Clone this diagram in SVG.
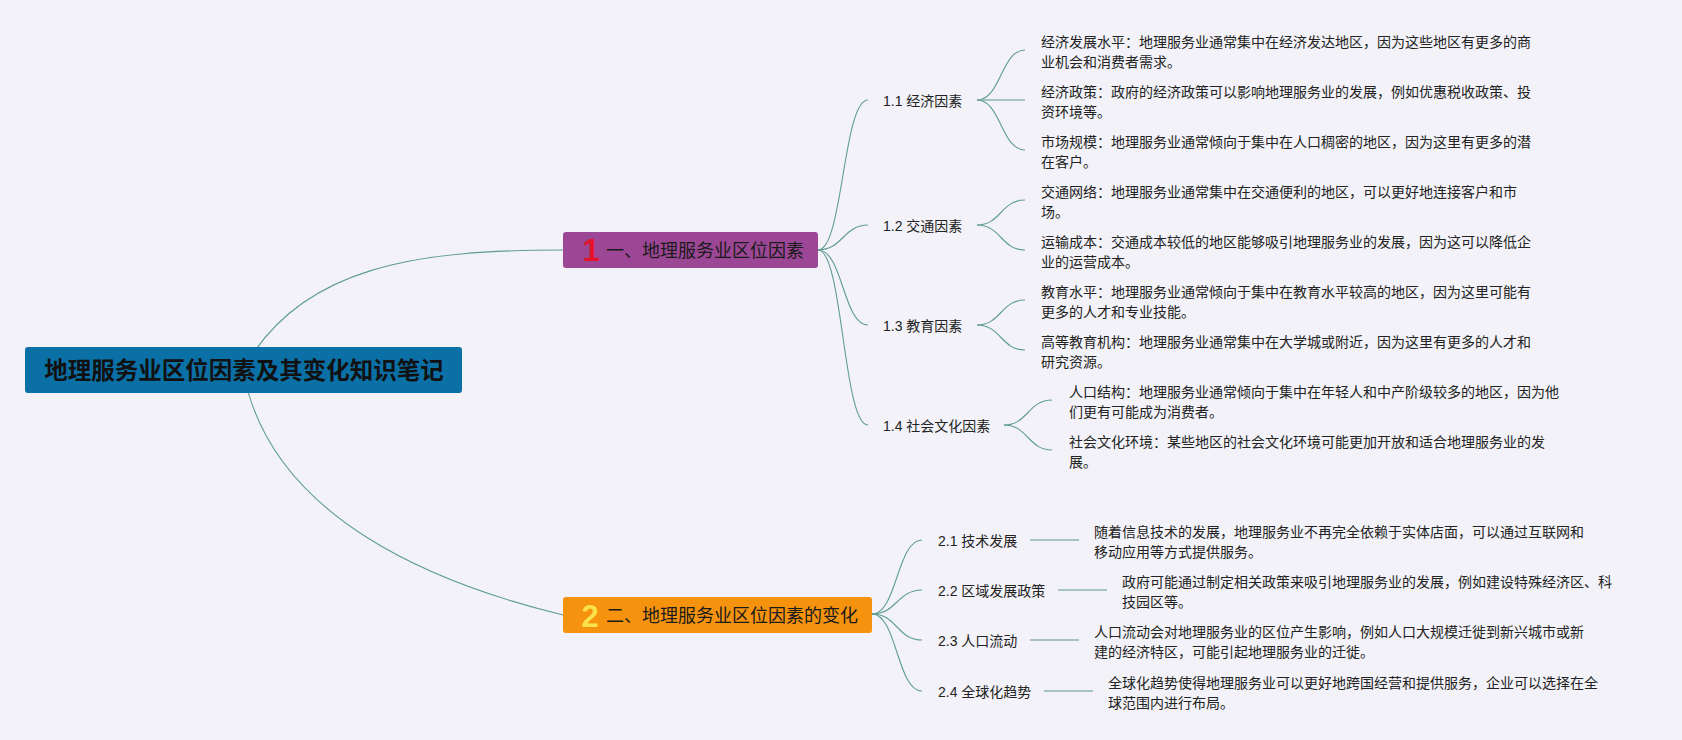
<svg xmlns="http://www.w3.org/2000/svg" width="1682" height="740" viewBox="0 0 1682 740">
<style>
.t{font-family:"Liberation Sans","Noto Sans CJK SC",sans-serif;font-size:14px;fill:#222}
.lb{font-family:"Liberation Sans","Noto Sans CJK SC",sans-serif;font-size:14px;fill:#222}
.br{font-family:"Noto Sans CJK SC",sans-serif;font-size:18px;fill:#1a1a1a}
.badge{font-family:"Liberation Sans",sans-serif;font-size:31px;font-weight:bold;text-anchor:middle}
.c{fill:none;stroke:#5f9d94;stroke-width:1.1}
.h{fill:none;stroke:#8db5ae;stroke-width:1.6}
</style>
<rect width="1682" height="740" fill="#f2f2f8"/>
<g id="connectors">
<path class="c" d="M243,370 C300,265 420,250 563,250"/>
<path class="c" d="M243,370 C270,520 440,585 563,615"/>
<path class="c" d="M818,250 C843,250 843,100 868,100"/>
<path class="c" d="M818,250 C843,250 843,225 868,225"/>
<path class="c" d="M818,250 C843,250 843,325 868,325"/>
<path class="c" d="M818,250 C843,250 843,425 868,425"/>
<path class="c" d="M977,100 C1001,100 1001,50 1025,50"/>
<path class="h" d="M977,100 L1025,100"/>
<path class="c" d="M977,100 C1001,100 1001,150 1025,150"/>
<path class="c" d="M977,225 C1001,225 1001,200 1025,200"/>
<path class="c" d="M977,225 C1001,225 1001,250 1025,250"/>
<path class="c" d="M977,325 C1001,325 1001,300 1025,300"/>
<path class="c" d="M977,325 C1001,325 1001,350 1025,350"/>
<path class="c" d="M1004,425 C1028,425 1028,400 1052,400"/>
<path class="c" d="M1004,425 C1028,425 1028,450 1052,450"/>
<path class="c" d="M872,614 C897,614 897,540 922,540"/>
<path class="c" d="M872,614 C897,614 897,590 922,590"/>
<path class="c" d="M872,614 C897,614 897,640 922,640"/>
<path class="c" d="M872,614 C897,614 897,691 922,691"/>
<path class="h" d="M1030,540 L1079,540"/>
<path class="h" d="M1058,590 L1107,590"/>
<path class="h" d="M1030,640 L1079,640"/>
<path class="h" d="M1044,691 L1093,691"/>
</g>
<g id="root">
<rect x="25" y="347" width="437" height="46" rx="3" fill="#0b70a6"/>
<text x="244" y="379" text-anchor="middle" font-family="Noto Sans CJK SC, sans-serif" font-size="23.5" font-weight="bold" fill="#111">地理服务业区位因素及其变化知识笔记</text>
</g>
<g id="branch1">
<rect x="563" y="232" width="255" height="36" rx="3" fill="#9c4795"/>
<text class="badge" x="591" y="261" fill="#e3132b">1</text>
<text class="br" x="606" y="256.5">一、地理服务业区位因素</text>
</g>
<g id="branch2">
<rect x="563" y="597" width="309" height="36" rx="3" fill="#f5930f"/>
<text class="badge" x="590" y="627" fill="#fbe14c">2</text>
<text class="br" x="606" y="621.5">二、地理服务业区位因素的变化</text>
</g>
<g id="n1-1">
<text class="lb" x="883" y="106">1.1 经济因素</text>
<text class="t" x="1041" y="46.7">经济发展水平：地理服务业通常集中在经济发达地区，因为这些地区有更多的商</text>
<text class="t" x="1041" y="66.7">业机会和消费者需求。</text>
<text class="t" x="1041" y="96.7">经济政策：政府的经济政策可以影响地理服务业的发展，例如优惠税收政策、投</text>
<text class="t" x="1041" y="116.7">资环境等。</text>
<text class="t" x="1041" y="146.7">市场规模：地理服务业通常倾向于集中在人口稠密的地区，因为这里有更多的潜</text>
<text class="t" x="1041" y="166.7">在客户。</text>
</g>
<g id="n1-2">
<text class="lb" x="883" y="231">1.2 交通因素</text>
<text class="t" x="1041" y="196.7">交通网络：地理服务业通常集中在交通便利的地区，可以更好地连接客户和市</text>
<text class="t" x="1041" y="216.7">场。</text>
<text class="t" x="1041" y="246.7">运输成本：交通成本较低的地区能够吸引地理服务业的发展，因为这可以降低企</text>
<text class="t" x="1041" y="266.7">业的运营成本。</text>
</g>
<g id="n1-3">
<text class="lb" x="883" y="331">1.3 教育因素</text>
<text class="t" x="1041" y="296.7">教育水平：地理服务业通常倾向于集中在教育水平较高的地区，因为这里可能有</text>
<text class="t" x="1041" y="316.7">更多的人才和专业技能。</text>
<text class="t" x="1041" y="346.7">高等教育机构：地理服务业通常集中在大学城或附近，因为这里有更多的人才和</text>
<text class="t" x="1041" y="366.7">研究资源。</text>
</g>
<g id="n1-4">
<text class="lb" x="883" y="431">1.4 社会文化因素</text>
<text class="t" x="1069" y="396.7">人口结构：地理服务业通常倾向于集中在年轻人和中产阶级较多的地区，因为他</text>
<text class="t" x="1069" y="416.7">们更有可能成为消费者。</text>
<text class="t" x="1069" y="446.7">社会文化环境：某些地区的社会文化环境可能更加开放和适合地理服务业的发</text>
<text class="t" x="1069" y="466.7">展。</text>
</g>
<g id="n2-1">
<text class="lb" x="938" y="546">2.1 技术发展</text>
<text class="t" x="1094" y="536.7">随着信息技术的发展，地理服务业不再完全依赖于实体店面，可以通过互联网和</text>
<text class="t" x="1094" y="556.7">移动应用等方式提供服务。</text>
</g>
<g id="n2-2">
<text class="lb" x="938" y="596">2.2 区域发展政策</text>
<text class="t" x="1122" y="587">政府可能通过制定相关政策来吸引地理服务业的发展，例如建设特殊经济区、科</text>
<text class="t" x="1122" y="607">技园区等。</text>
</g>
<g id="n2-3">
<text class="lb" x="938" y="646">2.3 人口流动</text>
<text class="t" x="1094" y="637">人口流动会对地理服务业的区位产生影响，例如人口大规模迁徙到新兴城市或新</text>
<text class="t" x="1094" y="657">建的经济特区，可能引起地理服务业的迁徙。</text>
</g>
<g id="n2-4">
<text class="lb" x="938" y="697">2.4 全球化趋势</text>
<text class="t" x="1108" y="688">全球化趋势使得地理服务业可以更好地跨国经营和提供服务，企业可以选择在全</text>
<text class="t" x="1108" y="708">球范围内进行布局。</text>
</g>
</svg>
